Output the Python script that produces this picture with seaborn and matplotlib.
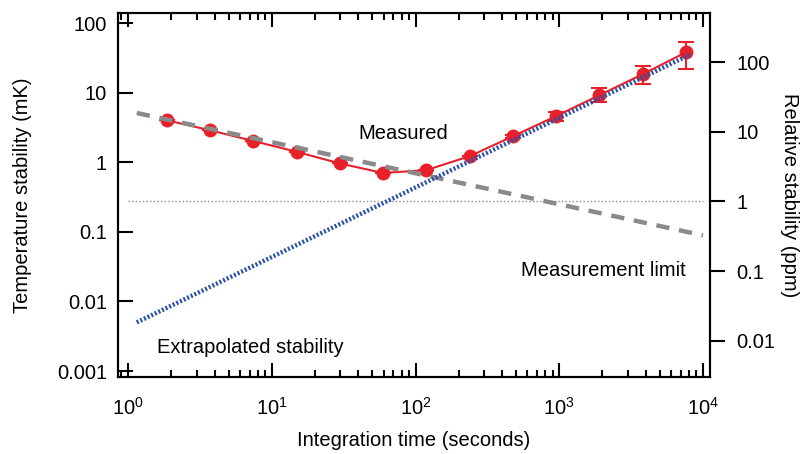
import numpy as np
import pandas as pd
import matplotlib
matplotlib.use("Agg")
import matplotlib.pyplot as plt
import seaborn as sns
from matplotlib.ticker import LogLocator, NullLocator, FixedLocator, FixedFormatter, NullFormatter

# ---- data ----
tau = [1.86, 3.72, 7.44, 14.9, 29.8, 59.5, 119, 238, 476, 952, 1905, 3810, 7620]
stability_mK = [4.0, 2.88, 2.02, 1.41, 0.96, 0.70, 0.77, 1.22, 2.36, 4.6, 9.2, 18.4, 38.0]
err_low = [4.0, 2.88, 2.02, 1.41, 0.96, 0.70, 0.77, 1.22, 2.2, 3.92, 7.35, 13.2, 22.2]
err_high = [4.0, 2.88, 2.02, 1.41, 0.96, 0.70, 0.77, 1.22, 2.5, 5.28, 11.5, 24.2, 53.5]

limit_tau = [1.15, 10000]
limit_mK = [5.1, 0.089]

extrap_tau = [1.15, 8192]
extrap_mK = [0.0050, 35.5]

ppm_ref_mK = 0.27316   # 1 ppm of 273.16 K
ppm_line_tau = [1, 10000]

left_ticks = [0.001, 0.01, 0.1, 1, 10, 100]
left_labels = ["0.001", "0.01", "0.1", "1", "10", "100"]
right_ticks = [0.01, 0.1, 1, 10, 100]
right_labels = ["0.01", "0.1", "1", "10", "100"]
x_ticks = [1, 10, 100, 1000, 10000]
x_labels = [r"$10^0$", r"$10^1$", r"$10^2$", r"$10^3$", r"$10^4$"]

# ---- style ----
sns.set_style("ticks")
plt.rcParams['font.family'] = ['Liberation Sans', 'DejaVu Sans']
plt.rcParams['mathtext.fontset'] = 'custom'
plt.rcParams['mathtext.rm'] = 'Liberation Sans'
plt.rcParams['mathtext.it'] = 'Liberation Sans'
for k in ['text.color', 'axes.labelcolor', 'xtick.color', 'ytick.color', 'axes.edgecolor']:
    plt.rcParams[k] = 'black'

FS = 14.5
red = "#e8202a"
grey = "#8a8a8a"
blue = "#2a50a8"

fig = plt.figure(figsize=(8.03, 4.54), dpi=100)
ax = fig.add_axes([118/803, 1-377/454, (710-118)/803, (377-13)/454])

df = pd.DataFrame({"tau": tau, "mK": stability_mK})
sns.lineplot(data=df, x="tau", y="mK", ax=ax, color=red, lw=1.5, marker="o",
             markersize=10, markeredgewidth=0, zorder=3)
ax.errorbar(tau, stability_mK,
            yerr=[np.array(stability_mK) - np.array(err_low), np.array(err_high) - np.array(stability_mK)],
            fmt="none", ecolor=red, elinewidth=1.5, capsize=6, capthick=1.5, zorder=3)

sns.lineplot(x=limit_tau, y=limit_mK, ax=ax, color=grey, lw=3.2,
             linestyle=(0, (3.0, 2.2)), zorder=4)
sns.lineplot(x=extrap_tau, y=extrap_mK, ax=ax, color=blue, lw=3.2,
             linestyle=(0, (0.45, 0.45)), zorder=5)
sns.lineplot(x=ppm_line_tau, y=[ppm_ref_mK, ppm_ref_mK], ax=ax, color=grey, lw=1.0,
             linestyle=(0, (1, 1.6)), zorder=2)

ax.set_xscale("log")
ax.set_yscale("log")
ax.set_xlim(10**-0.07, 10**4.049)
ax.set_ylim(10**-3.086, 10**2.144)

ax.xaxis.set_major_locator(FixedLocator(x_ticks))
ax.xaxis.set_major_formatter(FixedFormatter(x_labels))
ax.xaxis.set_minor_locator(LogLocator(base=10, subs=np.arange(2, 10)))
ax.xaxis.set_minor_formatter(NullFormatter())
ax.yaxis.set_major_locator(FixedLocator(left_ticks))
ax.yaxis.set_major_formatter(FixedFormatter(left_labels))
ax.yaxis.set_minor_locator(NullLocator())

for s in ax.spines.values():
    s.set_linewidth(1.5)
    s.set_color("black")

ax.tick_params(axis="x", which="both", direction="in", top=True, bottom=True,
               width=1.5, labelsize=FS, pad=14)
ax.tick_params(axis="x", which="major", length=10)
ax.tick_params(axis="x", which="minor", length=5)
ax.tick_params(axis="y", which="major", direction="in", left=True, right=False,
               length=11, width=1.5, labelsize=FS, pad=8)

ax.set_xlabel("Integration time (seconds)", fontsize=FS, labelpad=9)
ax.set_ylabel("Temperature stability (mK)", fontsize=FS, labelpad=18)

ax2 = ax.twinx()
ax2.set_yscale("log")
lo, hi = ax.get_ylim()
ax2.set_ylim(lo / ppm_ref_mK, hi / ppm_ref_mK)
ax2.yaxis.set_major_locator(FixedLocator(right_ticks))
ax2.yaxis.set_major_formatter(FixedFormatter(right_labels))
ax2.yaxis.set_minor_locator(NullLocator())
ax2.tick_params(axis="y", which="major", direction="out", length=11, width=1.5,
                labelsize=FS, pad=8)
for s in ax2.spines.values():
    s.set_linewidth(1.5)
    s.set_color("black")
ax2.set_ylabel("Relative stability (ppm)", fontsize=FS, rotation=270, labelpad=17)

ax.text(82, 2.6, "Measured", fontsize=FS, ha="center", va="center")
ax.text(7600, 0.028, "Measurement limit", fontsize=FS, ha="right", va="center")
ax.text(1.6, 0.0022, "Extrapolated stability", fontsize=FS, ha="left", va="center")

fig.savefig("out.png", dpi=100)
